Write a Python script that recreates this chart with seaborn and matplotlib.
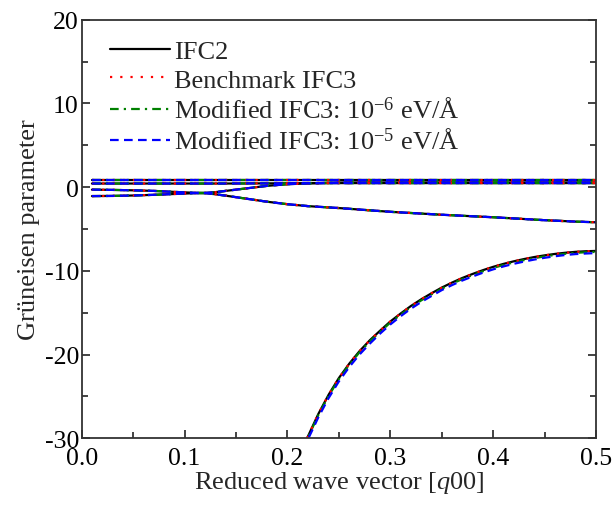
import numpy as np
import pandas as pd
import matplotlib
matplotlib.use("Agg")
import matplotlib.pyplot as plt
import seaborn as sns
from matplotlib.ticker import MultipleLocator
from matplotlib.lines import Line2D

# ---------------- data ----------------
q_bands = [0.01, 0.03, 0.05, 0.07, 0.09, 0.11, 0.12, 0.13, 0.14, 0.16,
           0.18, 0.20, 0.22, 0.25, 0.30, 0.35, 0.40, 0.45, 0.48, 0.50]
band_a = [0.90, 0.90, 0.90, 0.90, 0.90, 0.90, 0.90, 0.90, 0.90, 0.90,
          0.90, 0.90, 0.90, 0.90, 0.90, 0.90, 0.90, 0.90, 0.90, 0.90]
band_b = [0.43, 0.43, 0.43, 0.43, 0.43, 0.43, 0.43, 0.43, 0.43, 0.44,
          0.45, 0.46, 0.47, 0.48, 0.48, 0.48, 0.48, 0.48, 0.48, 0.48]
band_c = [-0.30, -0.33, -0.38, -0.45, -0.57, -0.68, -0.69, -0.60, -0.45, -0.15,
          0.15, 0.35, 0.45, 0.55, 0.56, 0.56, 0.56, 0.56, 0.56, 0.56]
band_d = [-1.07, -1.05, -1.00, -0.92, -0.82, -0.72, -0.72, -0.85, -1.02, -1.38,
          -1.74, -2.04, -2.27, -2.50, -2.95, -3.30, -3.60, -3.95, -4.12, -4.20]

q_low = [0.215, 0.22, 0.23, 0.24, 0.25, 0.26, 0.27, 0.28, 0.29, 0.30,
         0.31, 0.32, 0.33, 0.34, 0.35, 0.36, 0.37, 0.38, 0.39, 0.40,
         0.41, 0.42, 0.43, 0.44, 0.45, 0.46, 0.47, 0.48, 0.49, 0.50]
low_ifc2 = [-31.1, -29.75, -27.1, -24.8, -22.8, -21.1, -19.6, -18.3, -17.15, -16.05,
            -15.1, -14.2, -13.4, -12.68, -12.0, -11.4, -10.85, -10.37, -9.92, -9.52,
            -9.17, -8.86, -8.59, -8.35, -8.15, -7.98, -7.84, -7.73, -7.66, -7.62]
low_bench = [-31.1, -29.75, -27.1, -24.8, -22.8, -21.1, -19.6, -18.3, -17.15, -16.05,
             -15.1, -14.2, -13.4, -12.68, -12.0, -11.4, -10.85, -10.37, -9.92, -9.52,
             -9.17, -8.86, -8.59, -8.35, -8.15, -7.98, -7.84, -7.73, -7.66, -7.62]
low_mod6 = [-31.2, -29.87, -27.22, -24.93, -22.93, -21.23, -19.73, -18.43, -17.28, -16.18,
            -15.23, -14.33, -13.53, -12.81, -12.13, -11.53, -10.98, -10.5, -10.05, -9.65,
            -9.3, -8.99, -8.72, -8.48, -8.28, -8.1, -7.96, -7.85, -7.78, -7.74]
low_mod5 = [-31.4, -30.1, -27.5, -25.2, -23.2, -21.5, -20.0, -18.7, -17.5, -16.4,
            -15.42, -14.52, -13.72, -13.0, -12.3, -11.7, -11.15, -10.67, -10.22, -9.82,
            -9.47, -9.16, -8.89, -8.65, -8.44, -8.26, -8.11, -8.0, -7.93, -7.88]

series_labels = ["IFC2", "Benchmark IFC3",
                 "Modified IFC3: 10$^{\\mathregular{-6}}$ eV/Å",
                 "Modified IFC3: 10$^{\\mathregular{-5}}$ eV/Å"]
series_colors = ["black", "#ff0000", "#008000", "#0000ff"]
series_styles = ["-", (0, (1, 3.6)), (0, (3.9, 2.3, 1, 2.3)), (0, (3.9, 2.4))]
series_low = [low_ifc2, low_bench, low_mod6, low_mod5]

x_ticks = [0.0, 0.1, 0.2, 0.3, 0.4, 0.5]
y_ticks = [-30, -20, -10, 0, 10, 20]

# ---------------- style ----------------
sns.set_style("ticks")
plt.rcParams["font.family"] = ["Liberation Serif", "DejaVu Serif"]
plt.rcParams["mathtext.fontset"] = "custom"
plt.rcParams["mathtext.rm"] = "Liberation Serif"
plt.rcParams["mathtext.it"] = "Liberation Serif:italic"

fig = plt.figure(figsize=(6.14, 5.06), dpi=100)
ax = fig.add_axes([0.133, 0.132, 0.838, 0.827])

draw_order = [0, 2, 1, 3]
for i in draw_order:
    for band in [band_a, band_b, band_c, band_d]:
        sns.lineplot(x=q_bands, y=band, ax=ax, color=series_colors[i],
                     linestyle=series_styles[i], linewidth=1.6, sort=False,
                     estimator=None, legend=False)
    sns.lineplot(x=q_low, y=series_low[i], ax=ax, color=series_colors[i],
                 linestyle=series_styles[i], linewidth=1.6, sort=False,
                 estimator=None, legend=False)

handles = [Line2D([], [], color=series_colors[i], linestyle=series_styles[i],
                  linewidth=1.6) for i in range(4)]
ax.legend(handles, series_labels, loc="upper left", frameon=False,
          fontsize=19, handlelength=2.25, handletextpad=0.15, labelspacing=0.2,
          borderaxespad=0.3, bbox_to_anchor=(0.02, 0.997))

ax.set_xlim(0, 0.5)
ax.set_ylim(-30, 20)
ax.set_xticks(x_ticks)
ax.set_xticklabels([f"{t:.1f}" for t in x_ticks])
ax.set_yticks(y_ticks)
ax.set_yticklabels([f"{t:d}" for t in y_ticks])
ax.xaxis.set_minor_locator(MultipleLocator(0.05))
ax.yaxis.set_minor_locator(MultipleLocator(5))
ax.tick_params(axis="both", which="major", direction="in", length=6, width=1.2,
               labelsize=18.5, pad=2, colors="#222222", labelcolor="black")
ax.tick_params(axis="x", which="major", pad=6)
ax.tick_params(axis="both", which="minor", direction="in", length=4, width=1.2,
               colors="#222222")
ax.tick_params(axis="y", which="both", right=True, left=True)
ax.tick_params(axis="x", which="both", top=False)
for s in ax.spines.values():
    s.set_linewidth(1.3)
    s.set_color("#333333")

ax.set_xlabel("Reduced wave vector [$q$00]", fontsize=19, labelpad=0)
ax.set_ylabel("Grüneisen parameter", fontsize=19, labelpad=3)

fig.savefig("out.png", dpi=100)
